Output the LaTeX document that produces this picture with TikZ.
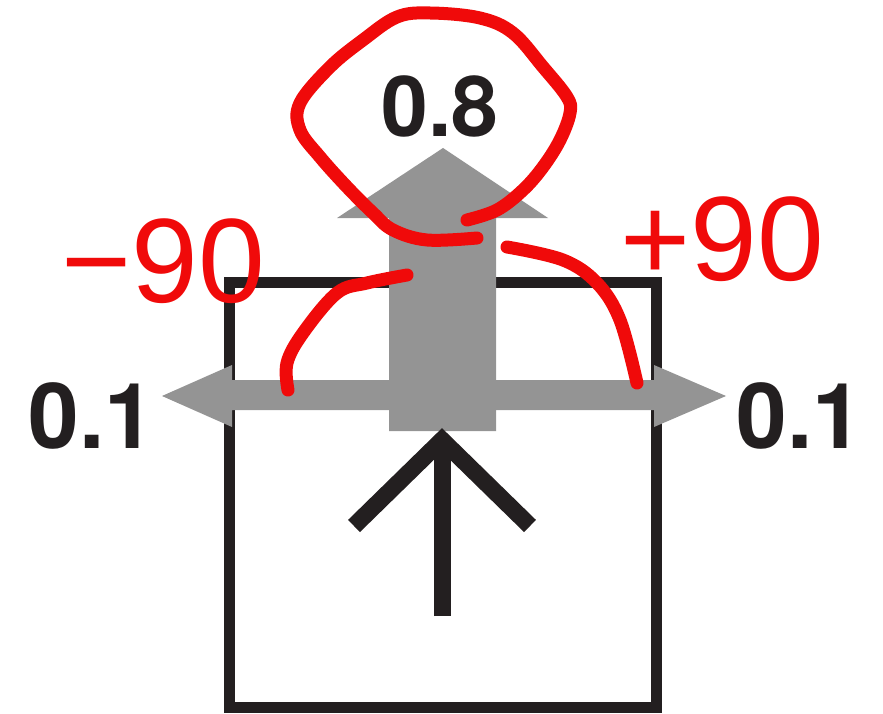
\documentclass[tikz,border=0pt]{standalone}
\usepackage{fontspec}
\setmainfont{TeX Gyre Heros}
\newfontfamily\handfont{Liberation Sans}
\definecolor{arrowgray}{RGB}{148,148,148}
\definecolor{inkblack}{RGB}{35,31,32}
\definecolor{penred}{RGB}{240,10,10}
\tikzset{
  boxline/.style={draw=inkblack, line width=11pt, line join=miter},
  grayarrow/.style={fill=arrowgray, draw=none},
  blackarrow/.style={draw=inkblack, line width=17pt, line join=miter, line cap=butt},
  valuelabel/.style={inner sep=0pt, anchor=base, font=\bfseries, text=inkblack},
  penstroke/.style={draw=penred, line width=13pt, line cap=round, line join=round},
  penlabel/.style={inner sep=0pt, anchor=base, text=penred}
}
\begin{document}
\begin{tikzpicture}[x=1pt,y=-1pt]
\useasboundingbox (0,0) rectangle (883,714);
% box
\draw[boxline] (229,282) rectangle (656,707);
% gray horizontal arrow
\fill[grayarrow] (232,380) -- (654,380) -- (654,365) -- (726,396) -- (654,427) -- (654,410)
  -- (232,410) -- (232,427) -- (162,396) -- (232,365) -- cycle;
% gray vertical arrow
\fill[grayarrow] (389,431) -- (389,218) -- (337,218) -- (443,148) -- (548,218) -- (496,218) -- (496,431) -- cycle;
% black arrow
\draw[blackarrow] (442,616) -- (442,445);
\draw[blackarrow] (354,526) -- (442,440) -- (530,526);
% value labels
\node[valuelabel, font=\fontsize{84}{84}\selectfont\bfseries] (top) at (440,137) {0.8};
\node[valuelabel, font=\fontsize{91}{91}\selectfont\bfseries] (left) at (92,448) {0.1};
\node[valuelabel, font=\fontsize{91}{91}\selectfont\bfseries] (right) at (800,448) {0.1};
% red annotations
\draw[penstroke] plot[smooth, tension=0.6] coordinates {(467,220) (497,210) (523,190) (543,167) (560,140) (570,113) (567,97) (543,67) (513,33) (480,18) (430,13) (397,17) (363,40) (330,67) (300,103) (300,130) (320,157) (347,187) (373,213) (393,230) (427,240) (477,238)};
\draw[penstroke] plot[smooth, tension=0.6] coordinates {(288,390) (287,363) (303,333) (337,293) (367,283) (407,275)};
\draw[penstroke] plot[smooth, tension=0.6] coordinates {(507,247) (563,260) (597,283) (620,320) (637,383)};
\node[penlabel, font=\fontsize{120}{120}\selectfont\handfont] (minus) at (163,302) {−90};
\node[penlabel, font=\fontsize{120}{120}\selectfont\handfont] (plus) at (722,280) {+90};
\end{tikzpicture}
\end{document}
